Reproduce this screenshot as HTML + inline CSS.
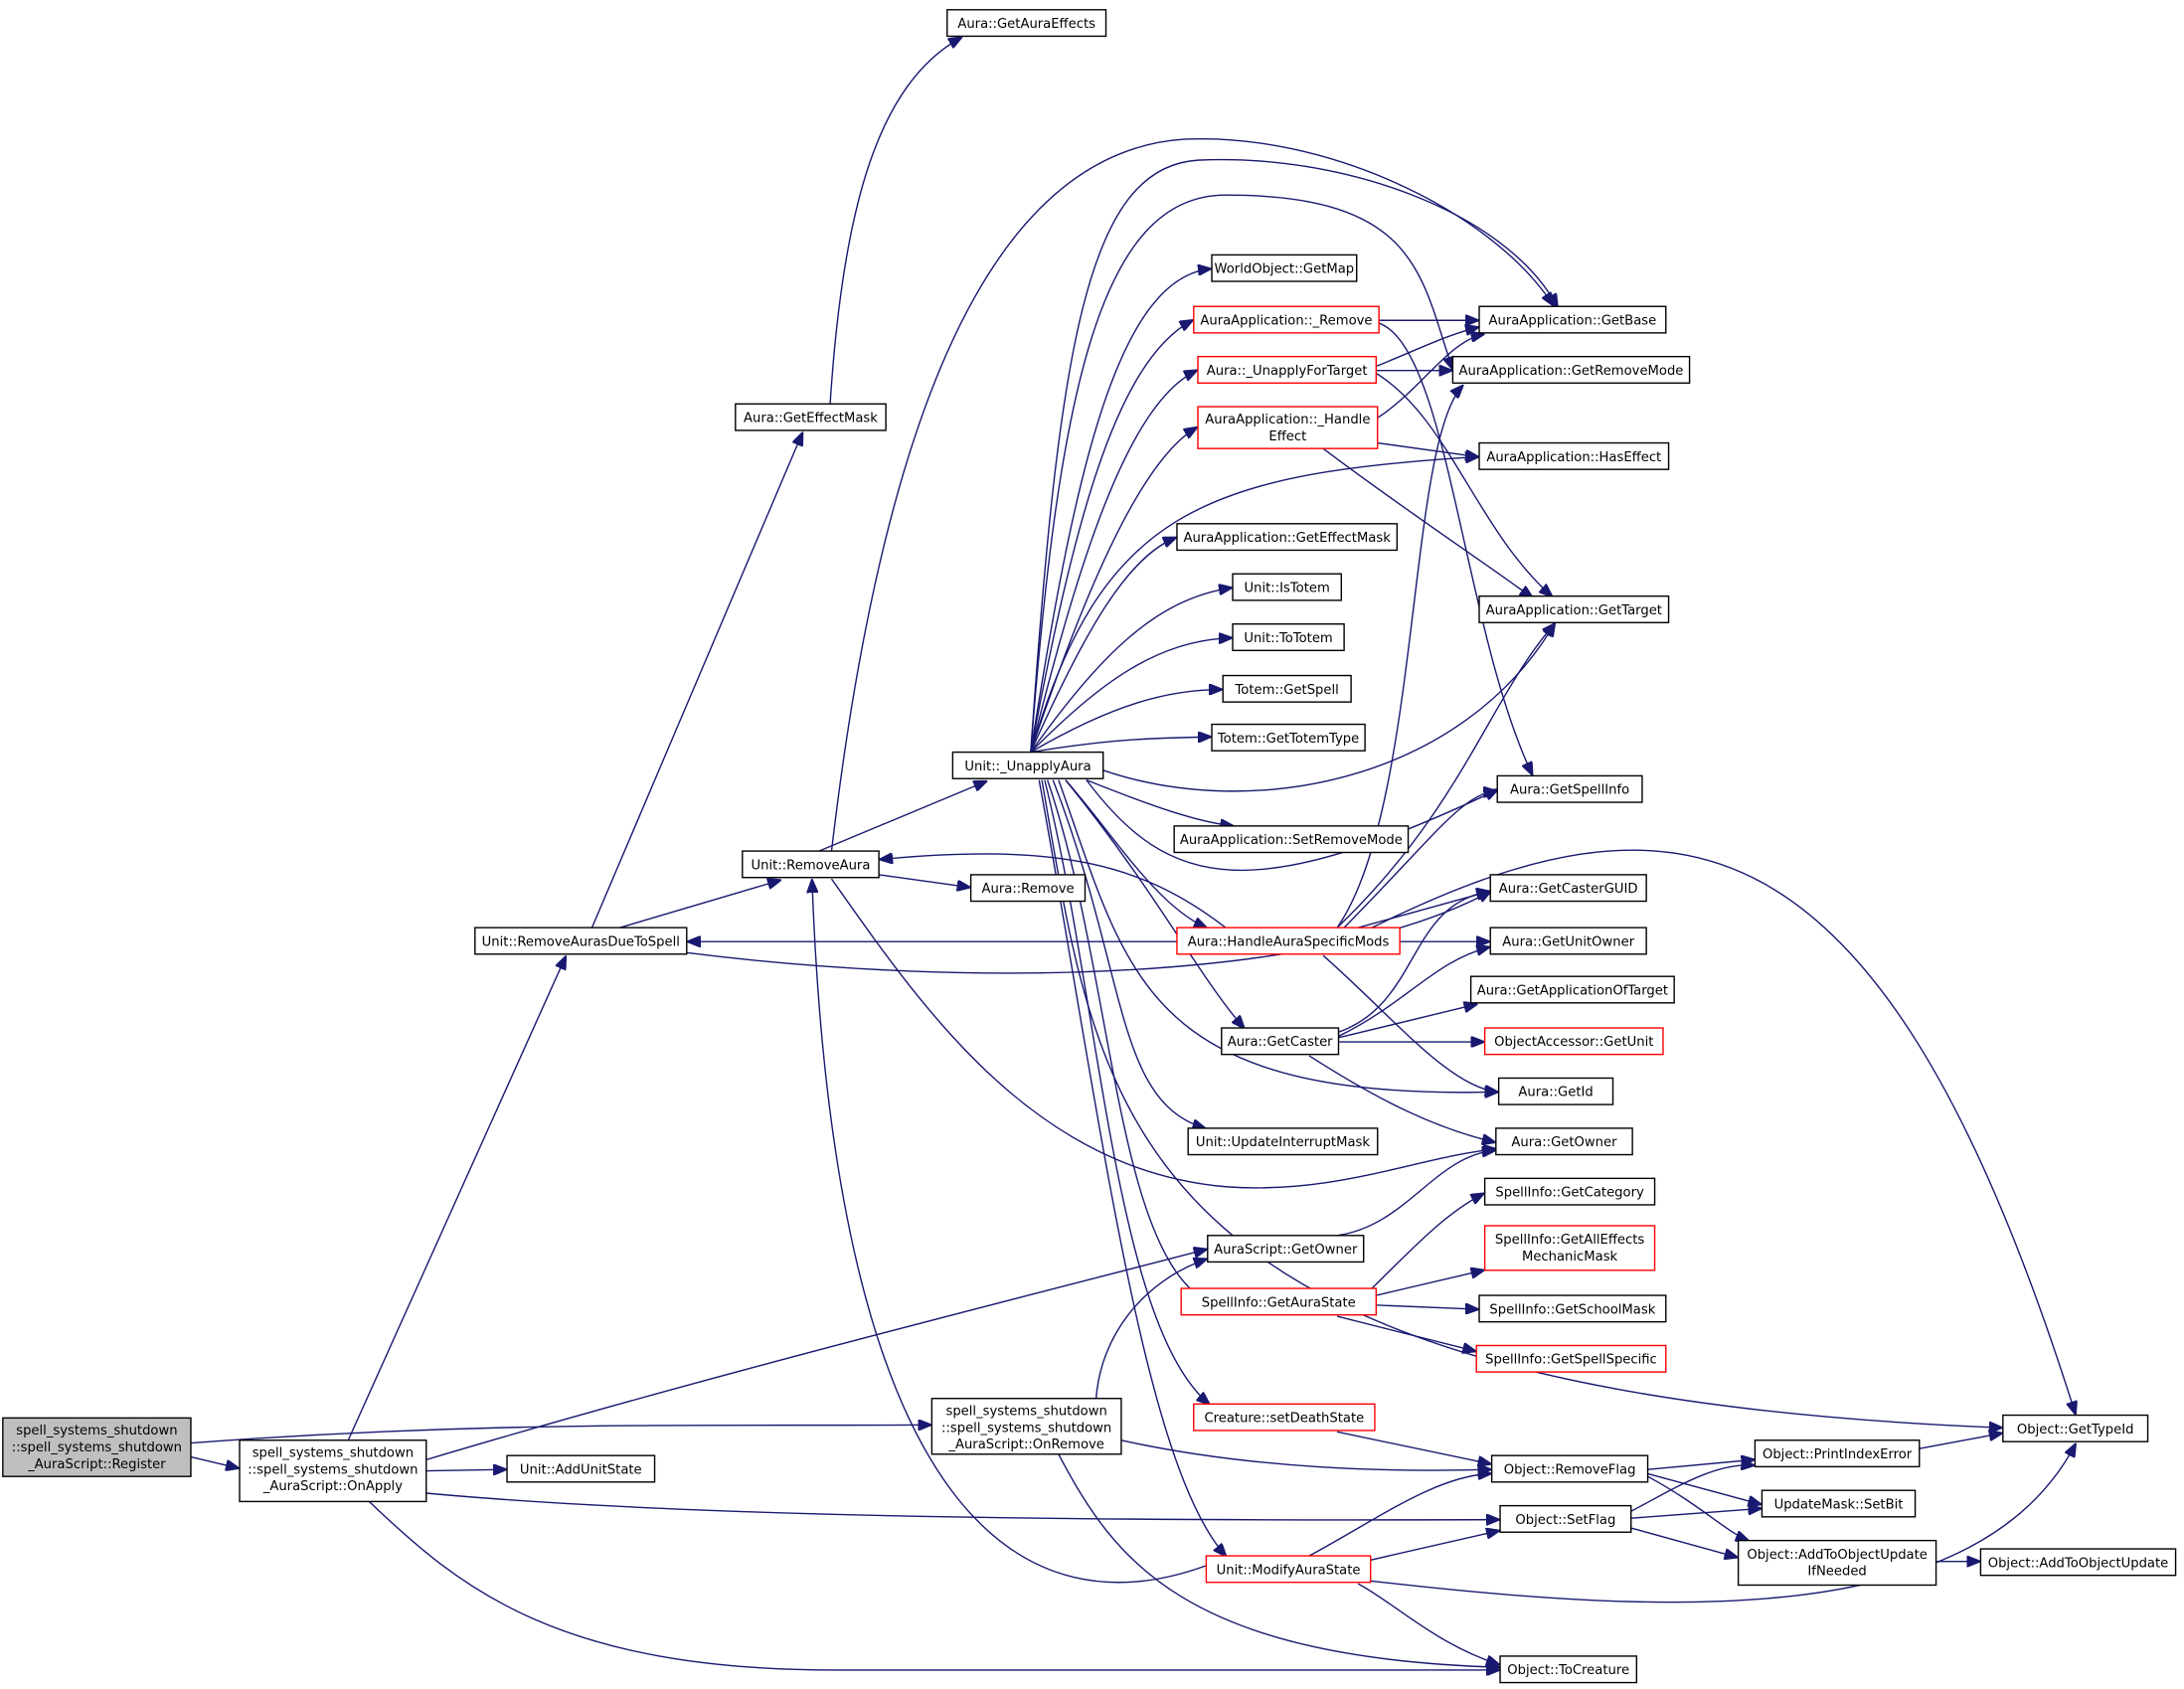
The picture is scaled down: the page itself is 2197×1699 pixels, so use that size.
<!DOCTYPE html>
<html><head><meta charset="utf-8"><style>
html,body{margin:0;padding:0;background:#fff;}
svg{display:block}
text{font-family:"DejaVu Sans","Liberation Sans",sans-serif;font-size:9.4px;fill:#000;text-anchor:middle}
.n{fill:#fff;stroke:#000;stroke-width:1}
.r{fill:#fff;stroke:#f00;stroke-width:1}
.g{fill:#bfbfbf;stroke:#000;stroke-width:1}
path{fill:none;stroke:#191970;stroke-width:1;marker-end:url(#a)}
</style></head><body>
<svg width="2197" height="1699" viewBox="0 0 1568 1212.6" xmlns="http://www.w3.org/2000/svg">
<defs><marker id="a" markerWidth="10" markerHeight="8" refX="9" refY="4" orient="auto" markerUnits="userSpaceOnUse"><path d="M0,0 L10,4 L0,8 z" style="fill:#191970;stroke:#191970;marker-end:none"/></marker></defs>

<!-- edges -->
<path d="M137,1036 C350,1020 500,1024 668,1023"/>
<path d="M137,1046 L171,1054"/>
<path d="M250,1034 L406,687"/>
<path d="M306,1048 C500,990 700,940 866,897"/>
<path d="M306,1056 L363,1055"/>
<path d="M306,1072 C500,1090 800,1092 1076,1091"/>
<path d="M265,1078 C330,1140 400,1199 600,1199 L1076,1199"/>
<path d="M425,666 L576,311"/>
<path d="M596,290 C605,150 630,60 690,27"/>
<path d="M445,666 L560,632"/>
<path d="M845,676 L494,676"/>
<path d="M493,684 C700,710 950,705 1070,640"/>
<path d="M631,628 L696,637"/>
<path d="M588,611 L708,561"/>
<path d="M597,611 C630,330 700,110 850,100 C950,95 1070,150 1115,219"/>
<path d="M597,631 C660,720 740,840 880,852 C960,858 1020,830 1074,825"/>
<path d="M880,666 C820,620 760,605 632,617"/>
<path d="M866,1124 C740,1170 600,1100 583,632"/>

<!-- _UnapplyAura fan -->
<path d="M740,540 C770,350 800,200 869,193"/>
<path d="M740,540 C770,380 800,260 856,230"/>
<path d="M740,540 C775,400 810,290 859,266"/>
<path d="M740,540 C780,420 820,330 859,307"/>
<path d="M740,540 C780,450 810,400 844,386"/>
<path d="M740,540 C790,470 830,430 884,422"/>
<path d="M740,540 C790,490 830,460 884,458"/>
<path d="M740,540 C800,505 840,495 877,495"/>
<path d="M740,540 C800,530 830,530 869,529"/>
<path d="M740,540 C760,250 780,120 860,115 C960,110 1080,150 1118,220"/>
<path d="M740,540 C760,280 790,140 880,140 C1020,140 1020,200 1043,265"/>
<path d="M740,540 C790,370 860,340 1061,328"/>
<path d="M792,553 C900,590 1050,560 1116,448"/>
<path d="M780,560 C830,580 860,590 885,593"/>
<path d="M765,560 C800,600 830,650 866,666"/>
<path d="M765,560 C830,640 860,700 893,738"/>
<path d="M760,560 C810,700 820,790 1075,784"/>
<path d="M756,560 C810,700 800,790 865,810"/>
<path d="M752,560 C800,700 800,900 868,935"/>
<path d="M750,560 C790,720 800,950 868,1008"/>
<path d="M748,560 C790,800 800,1000 1437,1025"/>
<path d="M746,560 C790,800 820,1050 880,1117"/>
<path d="M780,560 C840,640 900,650 1075,567"/>

<!-- second column -->
<path d="M990,230 L1061,230"/>
<path d="M990,232 C1040,250 1050,450 1100,556"/>
<path d="M988,263 C1020,250 1040,240 1061,235"/>
<path d="M988,266 L1042,266"/>
<path d="M988,268 C1040,300 1060,380 1114,428"/>
<path d="M989,300 C1020,280 1040,245 1065,240"/>
<path d="M989,318 L1061,328"/>
<path d="M950,322 C1000,360 1060,400 1100,429"/>
<path d="M960,666 C1020,580 1010,320 1050,277"/>
<path d="M960,666 C1050,580 1070,500 1116,448"/>
<path d="M965,666 C1030,600 1050,570 1074,568"/>
<path d="M975,666 L1069,640"/>
<path d="M1005,676 L1069,676"/>
<path d="M950,686 C1000,730 1040,780 1075,784"/>
<path d="M985,666 C1200,560 1350,570 1490,1015"/>
<path d="M961,741 C1020,720 1010,650 1069,640"/>
<path d="M961,744 C1010,720 1030,690 1069,680"/>
<path d="M961,745 L1060,721"/>
<path d="M961,748 L1065,748"/>
<path d="M940,758 C990,790 1030,810 1073,820"/>
<path d="M960,887 C1010,880 1030,830 1073,826"/>
<path d="M985,925 C1020,890 1040,870 1065,857"/>
<path d="M988,930 L1065,912"/>
<path d="M988,937 L1061,940"/>
<path d="M960,945 L1059,970"/>
<path d="M960,1028 L1070,1051"/>
<path d="M787,1004 C790,960 820,920 866,904"/>
<path d="M805,1034 C900,1055 1000,1057 1070,1055"/>
<path d="M760,1044 C800,1120 850,1190 1076,1197"/>
<path d="M940,1117 C990,1090 1030,1060 1070,1058"/>
<path d="M984,1120 L1076,1099"/>
<path d="M975,1137 C1000,1150 1030,1180 1076,1195"/>
<path d="M984,1135 C1200,1160 1420,1170 1490,1037"/>
<path d="M1183,1055 L1259,1048"/>
<path d="M1183,1058 L1264,1080"/>
<path d="M1183,1060 C1220,1080 1240,1100 1255,1106"/>
<path d="M1171,1085 C1200,1070 1230,1050 1259,1052"/>
<path d="M1171,1090 L1264,1083"/>
<path d="M1171,1097 L1247,1118"/>
<path d="M1378,1040 L1437,1029"/>
<path d="M1390,1121 L1421,1121"/>

<!-- nodes -->
<rect class="g" x="2" y="1018" width="135" height="42"/><text x="69.5" y="1030">spell_systems_shutdown</text><text x="69.5" y="1042">::spell_systems_shutdown</text><text x="69.5" y="1054">_AuraScript::Register</text>
<rect class="n" x="172" y="1034" width="134" height="44"/><text x="239" y="1046">spell_systems_shutdown</text><text x="239" y="1058">::spell_systems_shutdown</text><text x="239" y="1070">_AuraScript::OnApply</text>
<rect class="n" x="364" y="1045" width="106" height="19"/><text x="417" y="1058">Unit::AddUnitState</text>
<rect class="n" x="341" y="666" width="152" height="19"/><text x="417" y="679">Unit::RemoveAurasDueToSpell</text>
<rect class="n" x="528" y="290" width="108" height="19"/><text x="582" y="303">Aura::GetEffectMask</text>
<rect class="n" x="680" y="7" width="114" height="19"/><text x="737" y="20">Aura::GetAuraEffects</text>
<rect class="n" x="533" y="611" width="98" height="19"/><text x="582" y="624">Unit::RemoveAura</text>
<rect class="n" x="697" y="628" width="82" height="19"/><text x="738" y="641">Aura::Remove</text>
<rect class="n" x="684" y="540" width="108" height="19"/><text x="738" y="553">Unit::_UnapplyAura</text>
<rect class="n" x="669" y="1004" width="136" height="40"/><text x="737" y="1016">spell_systems_shutdown</text><text x="737" y="1028">::spell_systems_shutdown</text><text x="737" y="1040">_AuraScript::OnRemove</text>
<rect class="n" x="870" y="183" width="104" height="19"/><text x="922" y="196">WorldObject::GetMap</text>
<rect class="r" x="857" y="220" width="133" height="19"/><text x="923.5" y="233">AuraApplication::_Remove</text>
<rect class="r" x="860" y="256" width="128" height="19"/><text x="924" y="269">Aura::_UnapplyForTarget</text>
<rect class="r" x="860" y="292" width="129" height="30"/><text x="924.5" y="304">AuraApplication::_Handle</text><text x="924.5" y="316">Effect</text>
<rect class="n" x="845" y="376" width="158" height="19"/><text x="924" y="389">AuraApplication::GetEffectMask</text>
<rect class="n" x="885" y="412" width="78" height="19"/><text x="924" y="425">Unit::IsTotem</text>
<rect class="n" x="885" y="448" width="80" height="19"/><text x="925" y="461">Unit::ToTotem</text>
<rect class="n" x="878" y="485" width="92" height="19"/><text x="924" y="498">Totem::GetSpell</text>
<rect class="n" x="870" y="520" width="110" height="19"/><text x="925" y="533">Totem::GetTotemType</text>
<rect class="n" x="843" y="593" width="168" height="19"/><text x="927" y="606">AuraApplication::SetRemoveMode</text>
<rect class="r" x="845" y="666" width="160" height="19"/><text x="925" y="679">Aura::HandleAuraSpecificMods</text>
<rect class="n" x="877" y="738" width="84" height="19"/><text x="919" y="751">Aura::GetCaster</text>
<rect class="n" x="853" y="810" width="136" height="19"/><text x="921" y="823">Unit::UpdateInterruptMask</text>
<rect class="n" x="867" y="887" width="112" height="19"/><text x="923" y="900">AuraScript::GetOwner</text>
<rect class="r" x="848" y="925" width="140" height="19"/><text x="918" y="938">SpellInfo::GetAuraState</text>
<rect class="r" x="857" y="1008" width="130" height="19"/><text x="922" y="1021">Creature::setDeathState</text>
<rect class="r" x="866" y="1117" width="118" height="19"/><text x="925" y="1130">Unit::ModifyAuraState</text>
<rect class="n" x="1062" y="220" width="134" height="19"/><text x="1129" y="233">AuraApplication::GetBase</text>
<rect class="n" x="1043" y="256" width="170" height="19"/><text x="1128" y="269">AuraApplication::GetRemoveMode</text>
<rect class="n" x="1062" y="318" width="136" height="19"/><text x="1130" y="331">AuraApplication::HasEffect</text>
<rect class="n" x="1062" y="428" width="136" height="19"/><text x="1130" y="441">AuraApplication::GetTarget</text>
<rect class="n" x="1075" y="557" width="104" height="19"/><text x="1127" y="570">Aura::GetSpellInfo</text>
<rect class="n" x="1070" y="628" width="112" height="19"/><text x="1126" y="641">Aura::GetCasterGUID</text>
<rect class="n" x="1070" y="666" width="112" height="19"/><text x="1126" y="679">Aura::GetUnitOwner</text>
<rect class="n" x="1056" y="701" width="146" height="19"/><text x="1129" y="714">Aura::GetApplicationOfTarget</text>
<rect class="r" x="1066" y="738" width="128" height="19"/><text x="1130" y="751">ObjectAccessor::GetUnit</text>
<rect class="n" x="1076" y="774" width="82" height="19"/><text x="1117" y="787">Aura::GetId</text>
<rect class="n" x="1074" y="810" width="98" height="19"/><text x="1123" y="823">Aura::GetOwner</text>
<rect class="n" x="1066" y="846" width="122" height="19"/><text x="1127" y="859">SpellInfo::GetCategory</text>
<rect class="r" x="1066" y="880" width="122" height="32"/><text x="1127" y="893">SpellInfo::GetAllEffects</text><text x="1127" y="905">MechanicMask</text>
<rect class="n" x="1062" y="930" width="134" height="19"/><text x="1129" y="943">SpellInfo::GetSchoolMask</text>
<rect class="r" x="1060" y="966" width="136" height="19"/><text x="1128" y="979">SpellInfo::GetSpellSpecific</text>
<rect class="n" x="1071" y="1045" width="112" height="19"/><text x="1127" y="1058">Object::RemoveFlag</text>
<rect class="n" x="1077" y="1081" width="94" height="19"/><text x="1124" y="1094">Object::SetFlag</text>
<rect class="n" x="1077" y="1189" width="98" height="19"/><text x="1126" y="1202">Object::ToCreature</text>
<rect class="n" x="1438" y="1016" width="104" height="19"/><text x="1490" y="1029">Object::GetTypeId</text>
<rect class="n" x="1260" y="1034" width="118" height="19"/><text x="1319" y="1047">Object::PrintIndexError</text>
<rect class="n" x="1265" y="1070" width="110" height="19"/><text x="1320" y="1083">UpdateMask::SetBit</text>
<rect class="n" x="1248" y="1106" width="142" height="32"/><text x="1319" y="1119">Object::AddToObjectUpdate</text><text x="1319" y="1131">IfNeeded</text>
<rect class="n" x="1422" y="1112" width="140" height="19"/><text x="1492" y="1125">Object::AddToObjectUpdate</text>
</svg>
</body></html>
